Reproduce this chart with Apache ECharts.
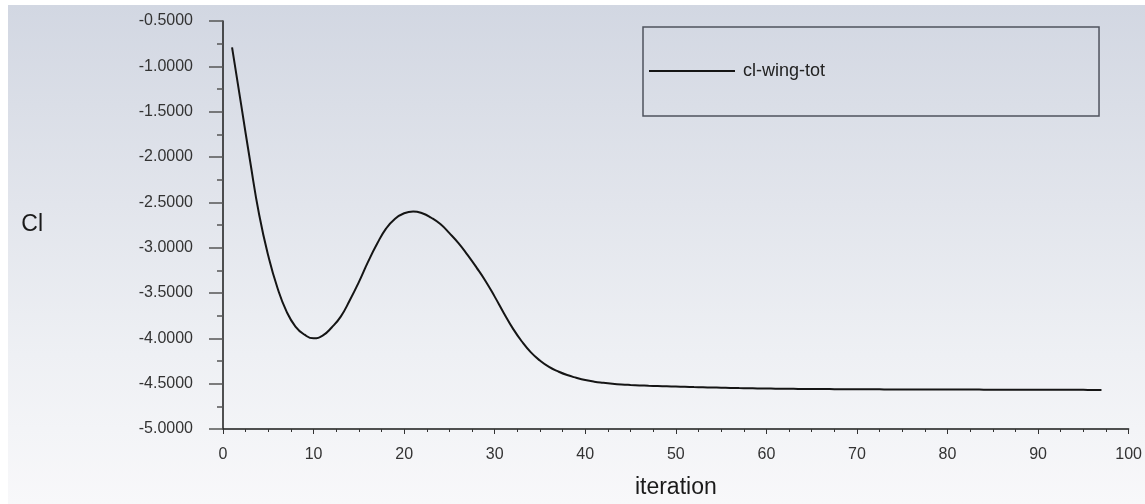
<!DOCTYPE html>
<html>
<head>
<meta charset="utf-8">
<script src="https://cdn.jsdelivr.net/npm/echarts@6/dist/echarts.min.js"></script>
<style>
html,body{margin:0;padding:0;background:#fff;overflow:hidden;}
#bg{position:absolute;left:8px;top:5px;width:1137px;height:499px;background:linear-gradient(to bottom,#d2d7e2 0%,#e2e5ec 40%,#eef0f4 70%,#f8f8fa 100%);}
#chart{position:absolute;left:0;top:0;width:1145px;height:504px;}
</style>
</head>
<body>
<div id="bg"></div>
<div id="chart"></div>
<script>
const seriesName = 'cl-wing-tot';
const xAxisName = 'iteration';
const yAxisName = 'Cl';
const iterations = [];
for (let i = 1; i <= 97; i++) iterations.push(i);
const clValues = [
  -0.79, -1.42, -2.05, -2.64, -3.09, -3.44, -3.70, -3.87, -3.96, -4.00,
  -3.97, -3.88, -3.76, -3.58, -3.38, -3.16, -2.96, -2.79, -2.68, -2.62,
  -2.60, -2.62, -2.67, -2.74, -2.84, -2.95, -3.08, -3.22, -3.37, -3.54,
  -3.72, -3.89, -4.035, -4.155, -4.245, -4.315, -4.365, -4.405, -4.435, -4.46,
  -4.478, -4.49, -4.50, -4.508, -4.514, -4.519, -4.523, -4.526, -4.529, -4.532,
  -4.535, -4.538, -4.540, -4.542, -4.545, -4.547, -4.549, -4.550, -4.552, -4.553,
  -4.555, -4.556, -4.557, -4.558, -4.559, -4.560, -4.560, -4.561, -4.561, -4.562,
  -4.562, -4.562, -4.563, -4.563, -4.563, -4.564, -4.564, -4.564, -4.564, -4.565,
  -4.565, -4.565, -4.565, -4.566, -4.566, -4.566, -4.566, -4.567, -4.567, -4.567,
  -4.567, -4.568, -4.568, -4.568, -4.568, -4.569, -4.569
];
const data = iterations.map((x, i) => [x, clValues[i]]);

const chart = echarts.init(document.getElementById('chart'), null, {renderer: 'canvas'});
chart.setOption({
  backgroundColor: 'transparent',
  animation: false,
  textStyle: {fontFamily: 'Liberation Sans, Arial, sans-serif'},
  grid: {left: 223, right: 16, top: 21, bottom: 73, containLabel: false},
  legend: {
    show: true,
    left: 643, top: 27,
    orient: 'horizontal',
    padding: [35, 274, 36, 6],
    borderColor: '#4f535e',
    borderWidth: 1.5,
    itemWidth: 86, itemHeight: 2, itemGap: 8,
    icon: 'rect',
    textStyle: {fontSize: 18, color: '#222', padding: [0, 0, 0, 3], fontFamily: 'Liberation Sans, Arial, sans-serif'},
    data: [seriesName]
  },
  xAxis: {
    type: 'value', min: 0, max: 100, interval: 10,
    name: xAxisName, nameLocation: 'middle', nameGap: 47,
    nameTextStyle: {fontSize: 23, color: '#1a1a1a'},
    axisLine: {show: true, onZero: false, lineStyle: {color: '#1a1a1a', width: 1.5}},
    axisTick: {show: true, inside: false, length: 5, lineStyle: {color: '#333'}},
    minorTick: {show: true, splitNumber: 4, length: 3, lineStyle: {color: '#333'}},
    axisLabel: {fontSize: 16, color: '#333', margin: 18},
    splitLine: {show: false}
  },
  yAxis: {
    type: 'value', min: -5, max: -0.5, interval: 0.5,
    name: yAxisName, nameLocation: 'middle', nameRotate: 0, nameGap: 180,
    nameTextStyle: {fontSize: 23, color: '#1a1a1a'},
    axisLine: {show: true, onZero: false, lineStyle: {color: '#1a1a1a', width: 1.5}},
    axisTick: {show: true, inside: false, length: 14, lineStyle: {color: '#555', width: 1.5}},
    minorTick: {show: true, splitNumber: 2, length: 6, lineStyle: {color: '#555', width: 1.5}},
    axisLabel: {fontSize: 16, color: '#333', margin: 30, formatter: v => v.toFixed(4)},
    splitLine: {show: false}
  },
  series: [{
    name: seriesName,
    type: 'line',
    data: data,
    smooth: true,
    showSymbol: false,
    symbol: 'none',
    lineStyle: {color: '#151515', width: 2},
    itemStyle: {color: '#151515'}
  }]
});
</script>
</body>
</html>
